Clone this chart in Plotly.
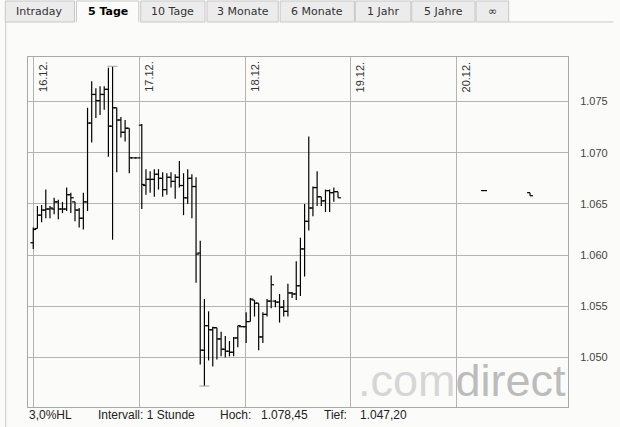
import plotly.graph_objects as go

# ---------------- data ----------------
tabs = ["Intraday", "5 Tage", "10 Tage", "3 Monate", "6 Monate", "1 Jahr", "5 Jahre", "∞"]
active_tab = "5 Tage"

day_labels = ["16.12.", "17.12.", "18.12.", "19.12.", "20.12."]
day_pos = [0.05, 25.4, 50.76, 76.1, 101.5]          # day boundaries in bar-slot units

y_ticks = [1.050, 1.055, 1.060, 1.065, 1.070, 1.075]

# bar slots (one per hourly bar)
slot = list(range(0, 74)) + [108, 119]

open_ = [1.0612, 1.0626, 1.0639, 1.0644, 1.0645, 1.0645, 1.0652, 1.0645, 1.0645, 1.0659, 1.0652, 1.0644, 1.0636,
         1.0652, 1.0729, 1.0757, 1.0751, 1.0757, 1.0762, 1.0726, 1.0744, 1.0732, 1.0720, 1.0724, 1.0695, 1.0695,
         1.0727, 1.0668, 1.0674, 1.0674, 1.0679, 1.0675, 1.0664, 1.0676, 1.0672, 1.0676, 1.0668, 1.0656, 1.0675,
         1.0667, 1.0602, 1.0507, 1.0531, 1.0527, 1.0529, 1.0518, 1.0508, 1.0506, 1.0505, 1.0519, 1.0530,
         1.0530, 1.0535, 1.0556, 1.0553, 1.0520, 1.0542, 1.0555, 1.0555, 1.0554, 1.0549, 1.0545, 1.0563, 1.0562,
         1.0570, 1.0606, 1.0633, 1.0646, 1.0666, 1.0657, 1.0653, 1.0663, 1.0661, 1.0662,
         1.0663, 1.0661]
high = [1.0627, 1.0648, 1.0649, 1.0664, 1.0648, 1.0656, 1.0654, 1.0652, 1.0666, 1.0661, 1.0652, 1.0646, 1.0661,
        1.0744, 1.0770, 1.0763, 1.0765, 1.0765, 1.0783, 1.07845, 1.0744, 1.0735, 1.0732, 1.0724, 1.0695, 1.0695,
        1.0728, 1.0684, 1.0682, 1.0684, 1.0684, 1.0681, 1.0680, 1.0681, 1.0679, 1.0692, 1.0680, 1.0684, 1.0679,
        1.0676, 1.0614, 1.0557, 1.0545, 1.0530, 1.0529, 1.0525, 1.0521, 1.0516, 1.0520, 1.0531, 1.0530,
        1.0544, 1.0558, 1.0556, 1.0553, 1.0544, 1.0557, 1.0580, 1.0556, 1.0562, 1.0556, 1.0572, 1.0564, 1.0594,
        1.0617, 1.0650, 1.0716, 1.0667, 1.0682, 1.0657, 1.0664, 1.0664, 1.0666, 1.0662,
        1.0663, 1.0661]
low = [1.0606, 1.0626, 1.0632, 1.0636, 1.0636, 1.0640, 1.0635, 1.0641, 1.0643, 1.0641, 1.0633, 1.0627, 1.0625,
       1.0643, 1.0710, 1.0734, 1.0737, 1.0742, 1.0696, 1.0615, 1.0681, 1.0715, 1.0711, 1.0680, 1.0695, 1.0695,
       1.0645, 1.0659, 1.0661, 1.0657, 1.0664, 1.0657, 1.0659, 1.0666, 1.0655, 1.0666, 1.0639, 1.0650, 1.0636,
       1.0573, 1.0493, 1.0472, 1.0497, 1.0491, 1.0498, 1.0501, 1.0500, 1.0501, 1.0501, 1.0510, 1.0530,
       1.0514, 1.0535, 1.0540, 1.0507, 1.0514, 1.0540, 1.0548, 1.0549, 1.0534, 1.0540, 1.0540, 1.0558, 1.0556,
       1.0560, 1.0579, 1.0624, 1.0638, 1.0648, 1.0648, 1.0642, 1.0642, 1.0652, 1.0656,
       1.0663, 1.0658]
close = [1.0625, 1.0639, 1.0644, 1.0645, 1.0646, 1.0652, 1.0645, 1.0645, 1.0659, 1.0656, 1.0644, 1.0636, 1.0652,
         1.0729, 1.0757, 1.0751, 1.0757, 1.0762, 1.0726, 1.0744, 1.0732, 1.0720, 1.0724, 1.0695, 1.0695, 1.0695,
         1.0669, 1.0674, 1.0674, 1.0679, 1.0675, 1.0664, 1.0676, 1.0672, 1.0676, 1.0668, 1.0656, 1.0675, 1.0667,
         1.0601, 1.0507, 1.0531, 1.0527, 1.0529, 1.0518, 1.0508, 1.0506, 1.0505, 1.0519, 1.0531, 1.0530,
         1.0535, 1.0557, 1.0553, 1.0520, 1.0542, 1.0555, 1.0571, 1.0554, 1.0549, 1.0545, 1.0563, 1.0562, 1.0570,
         1.0606, 1.0633, 1.0646, 1.0666, 1.0657, 1.0653, 1.0663, 1.0661, 1.0662, 1.0656,
         1.0663, 1.0658]

info_range = "3,0%HL"
info_interval = "Intervall: 1 Stunde"

# ---------------- geometry helpers ----------------
W, H = 620, 427
PL, PR, PT, PB = 28, 574, 57, 407      # plot area in pixels
BG = "#fbfcfa"


def px(x):
    return (x - PL) / (PR - PL)


def py(y):
    return (PB - y) / (PB - PT)


# ---------------- OHLC drawn as segments ----------------
TW = 0.7
xs, ys = [], []
for s, o, h, l, c in zip(slot, open_, high, low, close):
    xs += [s, s, None, s - TW, s, None, s, s + TW, None]
    ys += [l, h, None, o, o, None, c, c, None]

fig = go.Figure()
fig.add_trace(go.Scatter(x=xs, y=ys, mode="lines", line=dict(color="#000000", width=1.2),
                         hoverinfo="skip", showlegend=False))

# grey caps at the extreme high / low
hi = max(high)
lo = min(low)
hi_s = slot[high.index(hi)]
lo_s = slot[low.index(lo)]
fig.add_trace(go.Scatter(x=[hi_s - 1.2, hi_s + 1.2, None, lo_s - 1.2, lo_s + 1.2],
                         y=[hi, hi, None, lo, lo], mode="lines",
                         line=dict(color="#a0a0a0", width=1), hoverinfo="skip", showlegend=False))


def de_num(v):
    s = f"{v * 1000:,.2f}"
    return s.replace(",", "X").replace(".", ",").replace("X", ".")


annotations = []
shapes = []

# day labels (rotated, inside top of plot)
for lab, pos in zip(day_labels, day_pos):
    annotations.append(dict(x=pos, y=1, xref="x", yref="paper", text=lab, showarrow=False,
                            textangle=-90, xanchor="left", yanchor="top", xshift=1, yshift=-2,
                            font=dict(family="Liberation Sans, Arial", size=11, color="#333333")))

# watermark
annotations.append(dict(x=px(360), y=py(380), xref="paper", yref="paper", showarrow=False,
                        xanchor="left", yanchor="middle",
                        text='<span style="color:#d6d6d6">.com</span><span style="color:#bcbcbc">direct</span>',
                        font=dict(family="Liberation Sans, Arial", size=45, color="#bcbcbc")))

# bottom info line
info_items = [(info_range, 27), (info_interval, 97), ("Hoch:", 220), (de_num(hi), 262),
              ("Tief:", 325), (de_num(lo), 362)]
for txt, x0 in info_items:
    annotations.append(dict(x=px(x0), y=py(415), xref="paper", yref="paper", text=txt, showarrow=False,
                            xanchor="left", yanchor="middle",
                            font=dict(family="Liberation Sans, Arial", size=12, color="#222222")))

# tabs
tab_edges = [(5, 75), (77, 140), (142, 207), (209, 281), (283, 358), (359, 415), (416, 480), (481, 514)]
for name, (x0, x1) in zip(tabs, tab_edges):
    is_active = name == active_tab
    shapes.append(dict(type="rect", xref="paper", yref="paper", x0=px(x0), x1=px(x1), y0=py(22), y1=py(1),
                       fillcolor=BG if is_active else "#ececec",
                       line=dict(color="#c8c8c8", width=1), layer="above"))
    annotations.append(dict(x=px((x0 + x1) / 2), y=py(11.5), xref="paper", yref="paper",
                            text=(f"<b>{name}</b>" if is_active else name),
                            showarrow=False, xanchor="center", yanchor="middle",
                            font=dict(family="DejaVu Sans, Verdana", size=11,
                                      color="#000000" if is_active else "#333333")))
# mask bottom edge of active tab
act = tab_edges[tabs.index(active_tab)]
shapes.append(dict(type="line", xref="paper", yref="paper", x0=px(act[0] + 0.5), x1=px(act[1] - 0.5),
                   y0=py(22), y1=py(22), line=dict(color=BG, width=2), layer="above"))
# panel border lines
shapes.append(dict(type="line", xref="paper", yref="paper", x0=px(514), x1=px(620), y0=py(22), y1=py(22),
                   line=dict(color="#c8c8c8", width=1)))
shapes.append(dict(type="line", xref="paper", yref="paper", x0=px(5.5), x1=px(5.5), y0=py(22), y1=py(427),
                   line=dict(color="#c8c8c8", width=1)))

fig.update_layout(
    width=W, height=H,
    margin=dict(l=PL, r=W - PR, t=PT, b=H - PB, pad=0),
    paper_bgcolor=BG, plot_bgcolor=BG,
    showlegend=False,
    annotations=annotations,
    shapes=shapes,
    xaxis=dict(range=[-1.26, 128.1], tickvals=day_pos, showticklabels=False, ticks="",
               showgrid=True, gridcolor="#b4b4b4", gridwidth=1, zeroline=False,
               showline=True, linecolor="#a8a8a8", linewidth=1, mirror=True, fixedrange=True),
    yaxis=dict(range=[1.04515, 1.07936], side="right", tickvals=y_ticks, tickformat=".3f",
               ticks="", ticklabelstandoff=9, showgrid=True, gridcolor="#b4b4b4", gridwidth=1,
               zeroline=False, showline=True, linecolor="#a8a8a8", linewidth=1, mirror=True,
               tickfont=dict(family="Liberation Sans, Arial", size=11, color="#444444"), fixedrange=True),
)

fig.write_html("out.html", config={"displayModeBar": False},
               post_script="document.body.style.margin='0';document.body.style.background='%s';" % BG)
